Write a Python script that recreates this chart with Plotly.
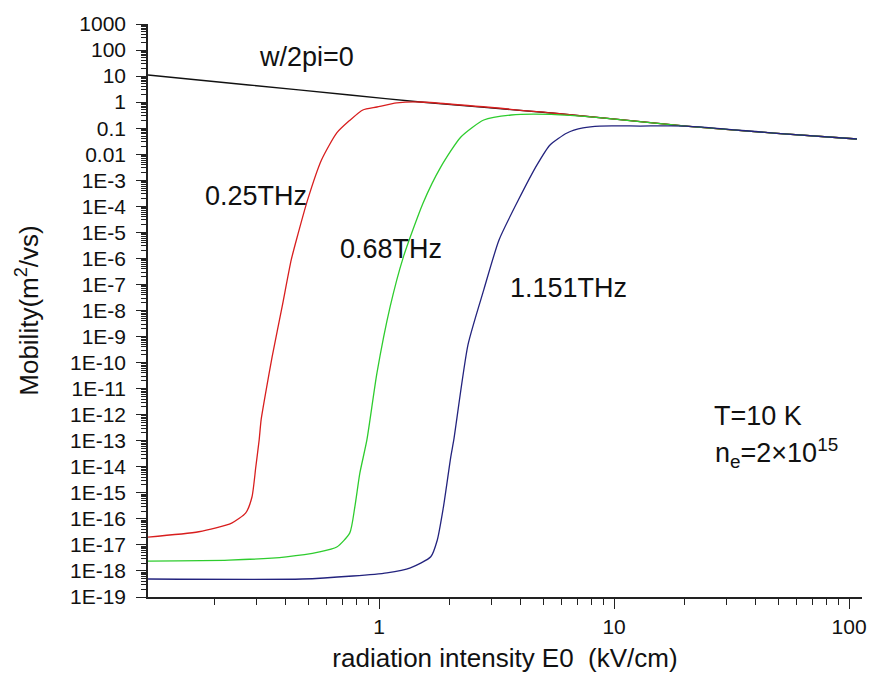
import plotly.graph_objects as go

# ---- data ----
black_x = [0.104, 0.279, 0.751, 1.50, 5.42, 20.2, 47.7, 108]
black_y = [11.0, 4.55, 1.88, 1.01, 0.383, 0.121, 0.065, 0.0385]

red_x = [0.104, 0.171, 0.236, 0.271, 0.288, 0.299, 0.309, 0.315, 0.331, 0.351, 0.387,
         0.423, 0.445, 0.496, 0.569, 0.661, 0.751, 0.853, 0.98, 1.19, 1.50, 5.42,
         20.2, 47.7, 108]
red_y = [2.0e-17, 3.2e-17, 6.9e-17, 1.7e-16, 6.9e-16, 9.8e-15, 1.07e-13, 6.3e-13,
         8.9e-12, 1.7e-10, 1.4e-8, 8.7e-7, 5.1e-6, 1.7e-4, 6.0e-3, 0.066, 0.20, 0.50,
         0.65, 0.93, 1.01, 0.383, 0.121, 0.065, 0.0385]

green_x = [0.104, 0.230, 0.403, 0.558, 0.661, 0.751, 0.789, 0.829, 0.888, 0.98, 1.115,
           1.27, 1.54, 1.83, 2.23, 2.79, 3.65, 5.42, 8.88, 20.2, 47.7, 108]
green_y = [2.4e-18, 2.6e-18, 3.5e-18, 5.4e-18, 8.3e-18, 2.9e-17, 2.9e-16, 5.8e-15,
           1.07e-13, 4.0e-11, 1.4e-8, 1.15e-6, 1.35e-4, 3.2e-3, 0.046, 0.206, 0.32,
           0.336, 0.247, 0.121, 0.065, 0.0385]

blue_x = [0.104, 0.472, 0.773, 1.08, 1.36, 1.66, 1.77, 1.88, 2.02, 2.08, 2.39, 2.79,
          3.24, 3.91, 4.70, 5.34, 6.31, 7.38, 8.71, 12.9, 20.2, 47.7, 108]
blue_y = [4.9e-19, 4.9e-19, 6.4e-19, 8.5e-19, 1.32e-18, 3.5e-18, 1.55e-17, 2.9e-16,
          2.4e-14, 1.07e-13, 4.8e-10, 6.2e-8, 5.1e-6, 1.7e-4, 3.9e-3, 0.0227, 0.0655,
          0.102, 0.121, 0.121, 0.121, 0.065, 0.0385]

y_exponents = list(range(3, -20, -1))
y_tick_labels = ["1000", "100", "10", "1", "0.1", "0.01"] + [f"1E{e}" for e in range(-3, -20, -1)]
x_tick_vals = [1, 10, 100]
x_tick_labels = ["1", "10", "100"]

series = [
    ("w/2pi=0", black_x, black_y, "#111111"),
    ("0.25THz", red_x, red_y, "#d81e1e"),
    ("0.68THz", green_x, green_y, "#2ecc2e"),
    ("1.151THz", blue_x, blue_y, "#23237e"),
]

FONT = "Liberation Sans, Arial, sans-serif"

fig = go.Figure()
for name, xs, ys, col in series:
    fig.add_trace(go.Scatter(x=xs, y=ys, mode="lines", name=name,
                             line=dict(color=col, width=1.3, shape="spline", smoothing=0.6),
                             showlegend=False))

y_major = [10.0 ** e for e in y_exponents]
y_minor = [m * 10.0 ** e for e in range(-19, 3) for m in range(2, 10)]
x_minor = [m * 10.0 ** e for e in range(-1, 2) for m in range(2, 10)]

fig.update_layout(
    width=879, height=684,
    margin=dict(l=148, r=17, t=24, b=87),
    paper_bgcolor="white", plot_bgcolor="white",
    font=dict(family=FONT, color="#111111", size=21),
    xaxis=dict(
        type="log", range=[-0.983, 2.055],
        showgrid=False, zeroline=False,
        showline=True, linecolor="#222222", linewidth=1.5,
        ticks="outside", ticklen=10, tickwidth=1.3, tickcolor="#222222",
        tickvals=x_tick_vals, ticktext=x_tick_labels,
        tickfont=dict(size=21, family=FONT),
        minor=dict(tickvals=x_minor, ticks="outside", ticklen=6, tickwidth=1.1,
                   tickcolor="#222222", showgrid=False),
        title=dict(text="radiation intensity E0  (kV/cm)", font=dict(size=26, family=FONT),
                   standoff=12),
    ),
    yaxis=dict(
        type="log", range=[-19, 3],
        showgrid=False, zeroline=False,
        showline=True, linecolor="#222222", linewidth=1.5,
        ticks="outside", ticklen=10, tickwidth=1.3, tickcolor="#222222",
        tickvals=y_major, ticktext=y_tick_labels,
        tickfont=dict(size=21, family=FONT),
        ticklabelstandoff=6,
        minor=dict(tickvals=y_minor, ticks="outside", ticklen=5, tickwidth=1,
                   tickcolor="#222222", showgrid=False),
        title=dict(text="Mobility(m<sup>2</sup>/vs)", font=dict(size=26, family=FONT),
                   standoff=24),
    ),
)

ann_font = dict(size=27, family=FONT, color="#111111")
annotations = [
    ("w/2pi=0", 0.1527, 0.9424),
    ("0.25THz", 0.0770, 0.6998),
    ("0.68THz", 0.2661, 0.6073),
    ("1.151THz", 0.5042, 0.5393),
    ("T=10 K", 0.7899, 0.3159),
    ("n<sub>e</sub>=2×10<sup>15</sup>", 0.7913, 0.2513),
]
for text, ax_, ay_ in annotations:
    fig.add_annotation(text=text, x=ax_, y=ay_, xref="paper", yref="paper",
                       xanchor="left", yanchor="middle", showarrow=False, font=ann_font)

fig.write_html("out.html")
